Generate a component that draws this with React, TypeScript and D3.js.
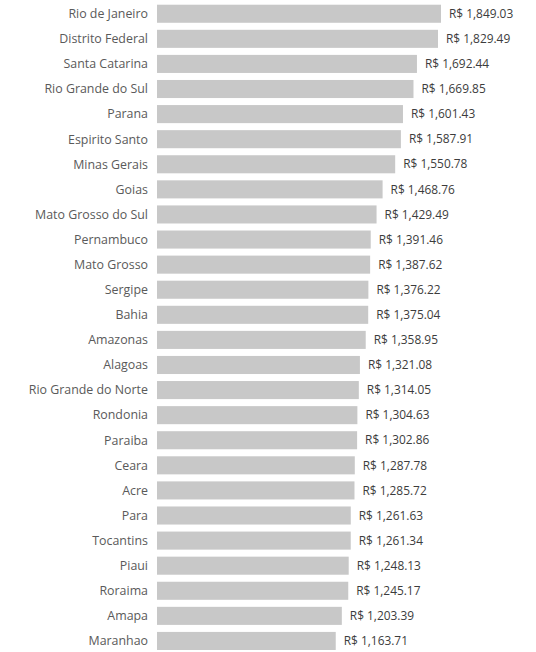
import React, { useEffect, useRef } from "react";
import * as d3 from "d3";

const states: string[] = [
  "Rio de Janeiro", "Distrito Federal", "Santa Catarina", "Rio Grande do Sul", "Parana",
  "Espirito Santo", "Minas Gerais", "Goias", "Mato Grosso do Sul", "Pernambuco",
  "Mato Grosso", "Sergipe", "Bahia", "Amazonas", "Alagoas",
  "Rio Grande do Norte", "Rondonia", "Paraiba", "Ceara", "Acre",
  "Para", "Tocantins", "Piaui", "Roraima", "Amapa", "Maranhao",
];
const values: number[] = [
  1849.03, 1829.49, 1692.44, 1669.85, 1601.43,
  1587.91, 1550.78, 1468.76, 1429.49, 1391.46,
  1387.62, 1376.22, 1375.04, 1358.95, 1321.08,
  1314.05, 1304.63, 1302.86, 1287.78, 1285.72,
  1261.63, 1261.34, 1248.13, 1245.17, 1203.39, 1163.71,
];

const W = 536;
const H = 652;
const FONT = "'Open Sans', 'Noto Sans', sans-serif";

export default function App() {
  const ref = useRef<SVGSVGElement>(null);
  useEffect(() => {
    const svg = d3.select(ref.current);
    svg.selectAll("*").remove();
    const data = states.map((s, i) => ({ s, v: values[i] }));
    const x = d3.scaleLinear().domain([0, d3.max(values) as number]).range([157, 441]);
    const y = d3.scaleBand<string>().domain(states).range([1.2, 653.5]).paddingInner(0.28).paddingOuter(0.14);
    const fmt = d3.format(",.2f");

    svg.append("g").selectAll("rect").data(data).join("rect")
      .attr("x", x(0))
      .attr("y", (d) => y(d.s) as number)
      .attr("width", (d) => x(d.v) - x(0))
      .attr("height", y.bandwidth())
      .attr("fill", "#c8c8c8");

    svg.append("g").selectAll("text").data(data).join("text")
      .attr("x", 148)
      .attr("y", (d) => (y(d.s) as number) + y.bandwidth() / 2)
      .attr("dy", "0.35em")
      .attr("text-anchor", "end")
      .attr("font-family", FONT)
      .attr("font-size", 12.4)
      .attr("fill", "#5a5a5a")
      .text((d) => d.s);

    svg.append("g").selectAll("text").data(data).join("text")
      .attr("x", (d) => x(d.v) + 8)
      .attr("y", (d) => (y(d.s) as number) + y.bandwidth() / 2)
      .attr("dy", "0.35em")
      .attr("font-family", FONT)
      .attr("font-size", 11.9)
      .attr("fill", "#3c3c3c")
      .text((d) => "R$ " + fmt(d.v));
  }, []);
  return (
    <svg
      ref={ref}
      width={W}
      height={H}
      style={{ position: "fixed", left: 0, top: 0, background: "#ffffff" }}
    />
  );
}
